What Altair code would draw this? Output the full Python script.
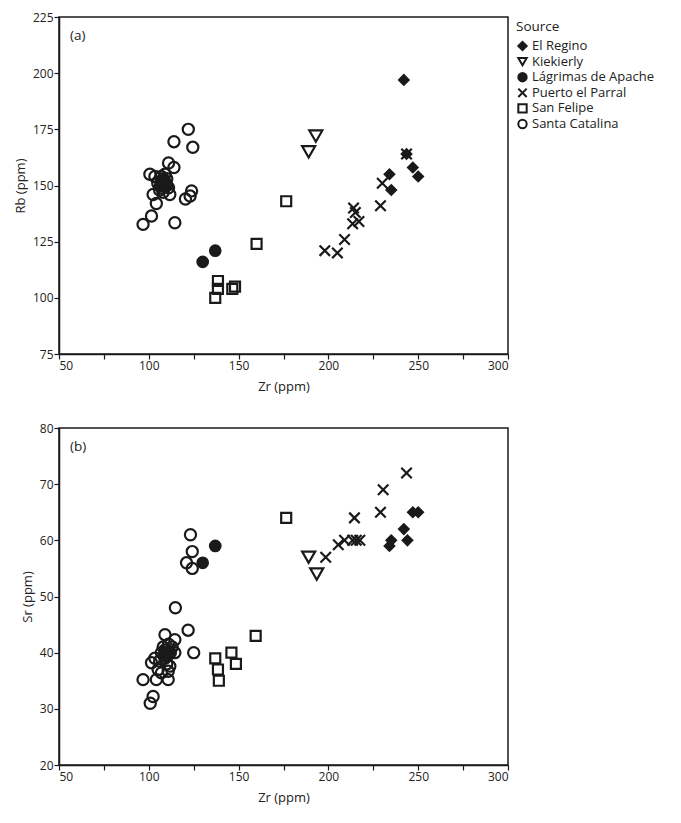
import altair as alt
import pandas as pd

FONT = "Open Sans"
INK = "#1a1a1a"

SOURCES = ["El Regino", "Kiekierly", "Lágrimas de Apache", "Puerto el Parral",
           "San Felipe", "Santa Catalina"]
SHAPES = ["diamond", "triangle-down", "circle", "M-1,-1L1,1M-1,1L1,-1", "square", "circle"]
FILLS = [INK, "transparent", INK, "transparent", "transparent", "transparent"]
STROKES = [INK] * 6
SIZES = [90, 170, 110, 110, 100, 125]

# ---- Panel (a): Zr vs Rb ----
regino_a_zr = [234, 235, 242, 243.5, 247, 250]
regino_a_rb = [155, 148, 197, 164, 158, 154]
kiek_a_zr = [189, 193]
kiek_a_rb = [165, 172]
lag_a_zr = [130, 137]
lag_a_rb = [116, 121]
parral_a_zr = [198, 205, 209, 213.5, 214, 215, 217, 229, 230, 243.5]
parral_a_rb = [121, 120, 126, 133, 140, 138, 134, 141, 151, 164]
felipe_a_zr = [137, 138.5, 138.5, 146.5, 148, 160, 176.5]
felipe_a_rb = [100, 107.5, 104, 104, 105, 124, 143]
catalina_a_zr = [122, 114, 124.5, 111, 114, 100.6, 103.4, 102.4, 104.2, 111.7,
                 123.8, 123, 120.4, 101.5, 96.8, 114.5,
                 107, 109, 106, 110, 108, 111, 105, 109, 108, 107,
                 107.5, 108.5, 106.5, 109.5, 108, 107, 110]
catalina_a_rb = [175, 169.5, 167, 160, 158, 155, 154, 146, 142, 146,
                 147.6, 145.3, 144, 136.4, 132.7, 133.4,
                 152, 150, 148, 153, 147, 149, 151, 155, 150, 154,
                 151, 152, 150, 151, 153, 149, 150]

# ---- Panel (b): Zr vs Sr ----
regino_b_zr = [234, 235, 242, 244, 247, 250]
regino_b_sr = [59, 60, 62, 60, 65, 65]
kiek_b_zr = [189, 193.5]
kiek_b_sr = [57, 54]
lag_b_zr = [130, 137]
lag_b_sr = [56, 59]
parral_b_zr = [198.5, 205.5, 209, 213.5, 214.5, 215.5, 217.5, 229, 230.5, 243.5]
parral_b_sr = [57, 59.2, 60, 60, 64, 60, 60, 65, 69, 72]
felipe_b_zr = [137, 138.5, 139, 146, 148.5, 159.5, 176.5]
felipe_b_sr = [39, 37, 35, 40, 38, 43, 64]
catalina_b_zr = [123.2, 124.2, 121, 124.2, 114.8, 121.9, 109, 114.5, 125, 114.5,
                 103.4, 101.5, 111.7, 105.2, 110.8, 107, 96.8, 104.2, 110.8, 102.4,
                 100.8, 108, 110, 112, 109, 107, 111, 106, 110, 113,
                 109.5, 108.5, 110.5, 109, 111]
catalina_b_sr = [61, 58, 56, 55, 48, 44, 43.2, 42.3, 40, 40,
                 39, 38.2, 37.6, 37, 36.7, 36.4, 35.2, 35.2, 35.2, 32.2,
                 31, 41, 40.5, 40, 39, 40, 41.5, 38.5, 38, 41,
                 40, 39.5, 39.5, 40.5, 40]


def frame(groups, ycol):
    rows = []
    for name, xs, ys in groups:
        for x, y in zip(xs, ys):
            rows.append({"Zr": x, ycol: y, "Source": name})
    return pd.DataFrame(rows)


df_a = frame([
    ("El Regino", regino_a_zr, regino_a_rb),
    ("Kiekierly", kiek_a_zr, kiek_a_rb),
    ("Lágrimas de Apache", lag_a_zr, lag_a_rb),
    ("Puerto el Parral", parral_a_zr, parral_a_rb),
    ("San Felipe", felipe_a_zr, felipe_a_rb),
    ("Santa Catalina", catalina_a_zr, catalina_a_rb),
], "Rb")
df_b = frame([
    ("El Regino", regino_b_zr, regino_b_sr),
    ("Kiekierly", kiek_b_zr, kiek_b_sr),
    ("Lágrimas de Apache", lag_b_zr, lag_b_sr),
    ("Puerto el Parral", parral_b_zr, parral_b_sr),
    ("San Felipe", felipe_b_zr, felipe_b_sr),
    ("Santa Catalina", catalina_b_zr, catalina_b_sr),
], "Sr")

x_ticks = list(range(50, 301, 25))
rb_ticks = list(range(75, 226, 25))
sr_ticks = list(range(20, 81, 10))
panel_labels = ["(a)", "(b)"]

W, H = 449, 337

# marker area per source (style), applied through an expression, not a scale
SIZE_EXPR = " : ".join(f"datum.Source == '{s}' ? {z}" for s, z in zip(SOURCES, SIZES)) + " : 100"


def x_enc():
    return alt.X("Zr:Q", title="Zr (ppm)",
                 scale=alt.Scale(domain=[50, 300], nice=False, zero=False),
                 axis=alt.Axis(values=x_ticks,
                               labelExpr="datum.value % 50 == 0 ? datum.label : ''"))


def legend_channels():
    sc = dict(domain=SOURCES)
    lg = alt.Legend(symbolStrokeWidth=2, clipHeight=15)
    return dict(
        shape=alt.Shape("Source:N", title="Source", scale=alt.Scale(range=SHAPES, **sc), legend=lg),
        fill=alt.Fill("Source:N", title="Source", scale=alt.Scale(range=FILLS, **sc), legend=lg),
        stroke=alt.Stroke("Source:N", title="Source", scale=alt.Scale(range=STROKES, **sc), legend=lg),
        size=alt.Size("msize:Q", scale=None),
    )


def label_layer(text):
    return alt.Chart(pd.DataFrame({"t": [text]})).mark_text(
        align="left", baseline="middle", fontSize=13.5, font=FONT, color=INK
    ).encode(x=alt.value(11), y=alt.value(19), text="t:N")


pts_a = alt.Chart(df_a).transform_calculate(msize=SIZE_EXPR).mark_point(
    filled=False, strokeWidth=2.2, opacity=1).encode(
    x=x_enc(),
    y=alt.Y("Rb:Q", title="Rb (ppm)",
            scale=alt.Scale(domain=[75, 225], nice=False, zero=False),
            axis=alt.Axis(values=rb_ticks)),
    **legend_channels(),
)

pts_b = alt.Chart(df_b).transform_calculate(msize=SIZE_EXPR).mark_point(
    filled=False, strokeWidth=2.2, opacity=1).encode(
    x=x_enc(),
    y=alt.Y("Sr:Q", title="Sr (ppm)",
            scale=alt.Scale(domain=[20, 80], nice=False, zero=False),
            axis=alt.Axis(values=sr_ticks)),
    **legend_channels(),
)

panel_a = alt.layer(pts_a, label_layer(panel_labels[0])).properties(width=W, height=H)
panel_b = alt.layer(pts_b, label_layer(panel_labels[1])).properties(width=W, height=H)

chart = alt.vconcat(panel_a, panel_b, spacing=27).properties(
    padding={"left": 5, "top": 2, "right": 5, "bottom": 5}
).configure_view(
    stroke=INK, strokeWidth=1.5
).configure_axis(
    grid=False, domainColor=INK, domainWidth=1.5, tickColor=INK, tickWidth=1.2,
    tickSize=5, labelFont=FONT, labelFontSize=12, labelColor="#222", labelPadding=1,
    titleFont=FONT, titleFontSize=13, titleFontWeight="normal", titleColor="#222",
).configure_axisX(
    titlePadding=9
).configure_axisY(
    titlePadding=5
).configure_legend(
    orient="right", offset=3, padding=3, titleFont=FONT, titleFontSize=13.5,
    titleFontWeight="normal", titleColor="#222", labelFont=FONT, labelFontSize=13,
    labelColor="#222", rowPadding=0.6, titlePadding=5, labelOffset=3, symbolSize=70,
)

chart.save("out.html", embed_options={"renderer": "svg", "actions": False})
